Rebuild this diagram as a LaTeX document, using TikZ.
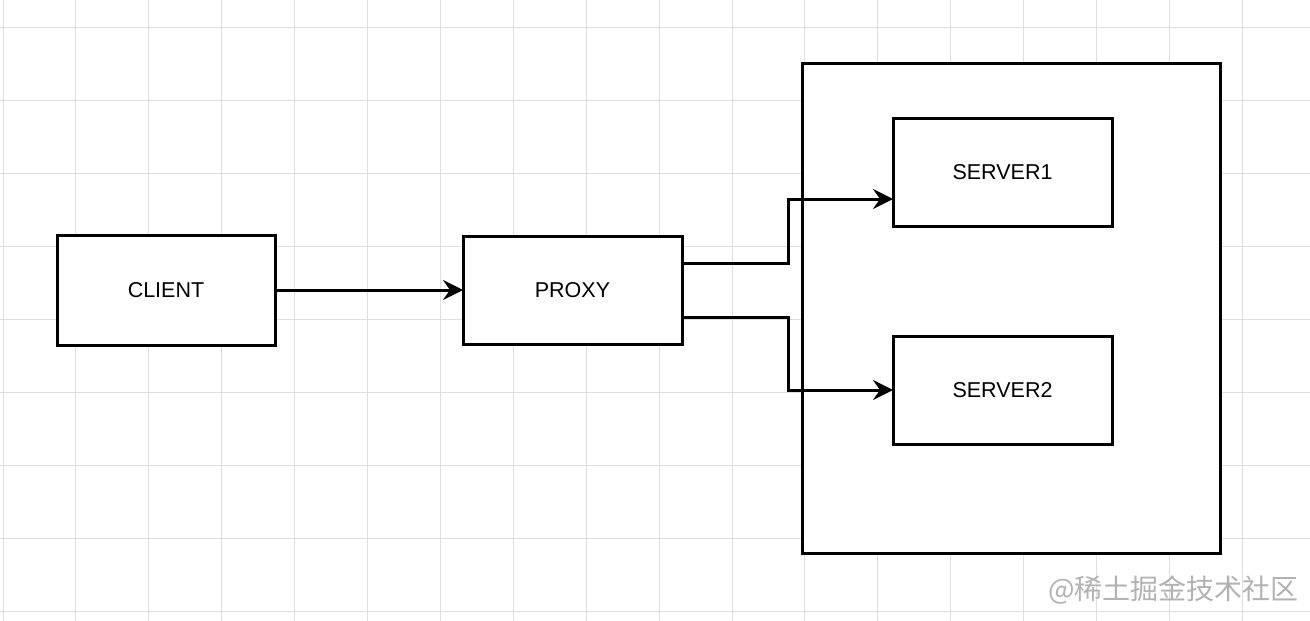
\documentclass[tikz,border=0pt]{standalone}
\usepackage{fontspec}
\setmainfont{Liberation Sans}
\newfontfamily\cjk{Noto Sans CJK SC}
\usetikzlibrary{arrows.meta,calc}
\begin{document}
\begin{tikzpicture}[x=1pt,y=-1pt,
  box/.style={draw=black,line width=3pt,fill=white,minimum width=219pt,minimum height=108pt,inner sep=0pt,outer sep=0pt,font=\fontsize{21.5pt}{25pt}\selectfont},
  conn/.style={line width=3pt,-{Stealth[length=20pt,width=20pt,inset=7pt]}},
  gridline/.style={draw=gray!25,line width=1pt}]
\useasboundingbox[fill=white] (0,0) rectangle (1310,621);
\foreach \i in {0,...,17} \draw[gridline] ({3+72.9*\i},0) -- ({3+72.9*\i},621);
\foreach \j in {0,...,8} \draw[gridline] (0,{27+73*\j}) -- (1310,{27+73*\j});
\node[box,minimum width=418pt,minimum height=490pt] (cont) at (1011,308) {};
\node[box,minimum width=218pt,minimum height=110pt] (client) at (166,290) {CLIENT};
\node[box] (proxy) at (572.5,290) {PROXY};
\node[box] (s1) at (1002.5,172) {SERVER1};
\node[box] (s2) at (1002.5,390) {SERVER2};
\draw[conn] (client.east) -- (proxy.west);
\draw[conn] ([yshift=27pt]proxy.east) -- ++(106,0) |- ([yshift=-27pt]s1.west);
\draw[conn] ([yshift=-27pt]proxy.east) -- ++(106,0) |- (s2.west);
\node[font=\cjk\fontsize{28pt}{30pt}\selectfont,text=gray!60,anchor=west,inner sep=0pt] (wm) at (1048,590) {@稀土掘金技术社区};
\end{tikzpicture}
\end{document}
